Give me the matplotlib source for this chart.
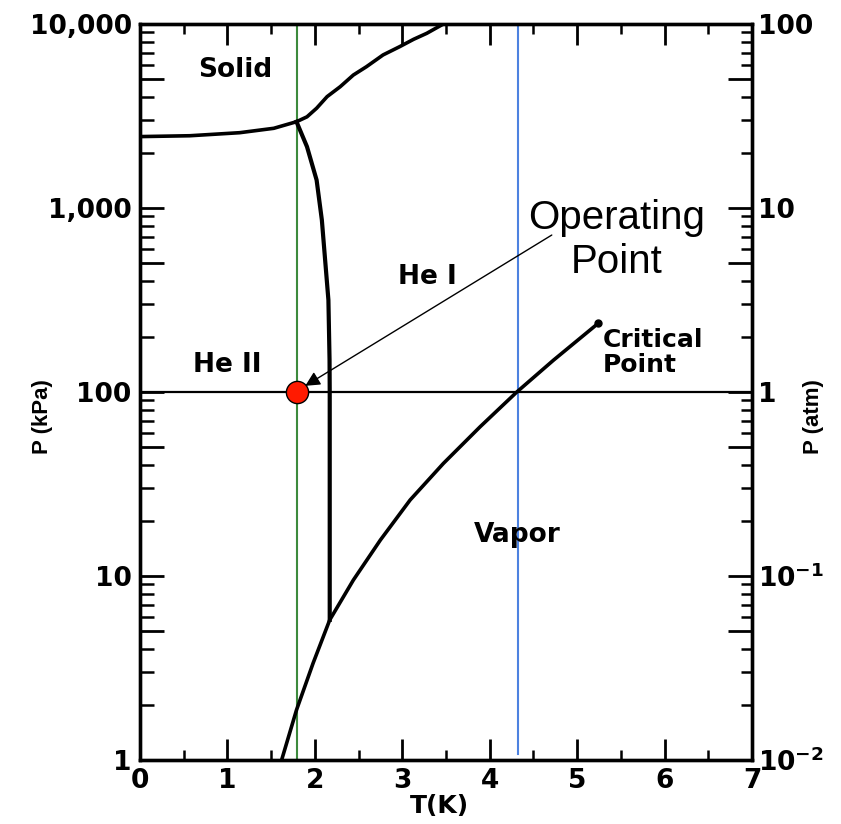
import matplotlib
matplotlib.use("Agg")
import matplotlib.pyplot as plt
from matplotlib.ticker import FixedLocator, FixedFormatter, NullFormatter

plt.rcParams['font.family'] = ['DejaVu Sans']
plt.rcParams['mathtext.fontset'] = 'custom'
plt.rcParams['mathtext.rm'] = 'DejaVu Sans:bold'
plt.rcParams['mathtext.it'] = 'DejaVu Sans:bold'
plt.rcParams['mathtext.default'] = 'rm'

# ---- data (T in K, P in kPa) ----
melt_T = [0.0, 0.57, 1.14, 1.53, 1.79, 1.91, 2.02, 2.14, 2.29, 2.44, 2.59, 2.78,
          2.97, 3.13, 3.28, 3.47]
melt_P = [2444, 2470, 2566, 2711, 2944, 3130, 3485, 4030, 4563, 5280, 5860, 6790,
          7530, 8260, 8900, 10000]

lambda_T = [1.79, 1.91, 2.02, 2.08, 2.155, 2.168, 2.17, 2.17]
lambda_P = [2944, 2153, 1419, 861, 316, 150, 100, 5.77]

vapor_T = [1.62, 1.79, 1.98, 2.17, 2.44, 2.75, 3.09, 3.47, 3.89, 4.31, 4.73, 5.24]
vapor_P = [1.0, 1.87, 3.36, 5.77, 9.5, 15.7, 25.9, 40.9, 64.7, 100, 149, 236]

critical_T, critical_P = 5.24, 236
operating_T, operating_P = 1.8, 100
green_T = 1.8
blue_T = 4.32
atm_line_P = 100

x_ticks = [0, 1, 2, 3, 4, 5, 6, 7]
left_major = [1, 5, 10, 50, 100, 500, 1000, 5000, 10000]
left_labels = ['1', '', '10', '', '100', '', '1,000', '', '10,000']
right_major = [0.01, 0.05, 0.1, 0.5, 1, 5, 10, 50, 100]
right_labels = [r'$10^{-2}$', '', r'$10^{-1}$', '', '1', '', '10', '', '100']

fig = plt.figure(figsize=(8.41, 8.24), dpi=100)
ax = fig.add_axes([140/841, 64/824, 612/841, 736/824])
ax.set_xlim(0, 7)
ax.set_yscale('log')
ax.set_ylim(1, 10000)

lw = 2.6
ax.plot(melt_T, melt_P, color='black', lw=lw, solid_joinstyle='round', zorder=3)
ax.plot(lambda_T, lambda_P, color='black', lw=lw + 0.4, solid_joinstyle='round', zorder=3)
ax.plot(vapor_T, vapor_P, color='black', lw=lw, solid_joinstyle='round', zorder=3)
ax.plot([critical_T], [critical_P], 'o', color='black', ms=5, zorder=4)

ax.plot([green_T, green_T], [1, 10000], color='#3d8a3d', lw=1.5, zorder=2)
ax.plot([blue_T, blue_T], [1.08, 10000], color='#4d82e0', lw=1.5, zorder=2)
ax.axhline(atm_line_P, color='black', lw=1.6, zorder=2)
ax.plot([operating_T], [operating_P], 'o', color='#ff1a00', mec='black', mew=1.0,
        ms=16, zorder=6)

tf = dict(fontsize=19, fontweight='bold', ha='center', va='center')
ax.text(1.09, 5620, 'Solid', **tf)
ax.text(3.29, 422, 'He I', **tf)
ax.text(1.0, 140, 'He II', **tf)
ax.text(4.32, 16.7, 'Vapor', **tf)
ax.text(5.29, 163, 'Critical\nPoint', fontsize=18, fontweight='bold', ha='left',
        va='center', linespacing=1.05)

ax.text(5.45, 670, 'Operating\nPoint', fontsize=29, family='Liberation Sans',
        ha='center', va='center', linespacing=1.2, zorder=7)
ax.annotate('', xy=(1.89, 108), xytext=(4.71, 713),
            arrowprops=dict(arrowstyle='-|>', color='black', lw=1.0,
                            mutation_scale=22, shrinkA=0, shrinkB=0), zorder=7)

# axes styling
for s in ax.spines.values():
    s.set_linewidth(2.4)
ax.xaxis.set_major_locator(FixedLocator(x_ticks))
ax.xaxis.set_minor_locator(FixedLocator([v + 0.5 for v in x_ticks[:-1]]))
ax.yaxis.set_major_locator(FixedLocator(left_major))
ax.yaxis.set_major_formatter(FixedFormatter(left_labels))
minor_left = [m * 10 ** e for e in range(0, 4) for m in (2, 3, 4, 6, 7, 8, 9)]
ax.yaxis.set_minor_locator(FixedLocator(minor_left))
ax.yaxis.set_minor_formatter(NullFormatter())
ax.tick_params(axis='x', which='major', direction='in', length=15, width=2.0,
               labelsize=19, pad=6, top=True)
ax.tick_params(axis='x', which='minor', direction='in', length=7.5, width=1.8, top=True)
ax.tick_params(axis='y', which='major', direction='in', length=17, width=2.0,
               labelsize=19, pad=6, right=False)
ax.tick_params(axis='y', which='minor', direction='in', length=10, width=1.8, right=False)
for lab in ax.get_xticklabels() + ax.get_yticklabels():
    lab.set_fontweight('bold')

ax2 = ax.twinx()
ax2.set_yscale('log')
ax2.set_ylim(0.01, 100)
ax2.yaxis.set_major_locator(FixedLocator(right_major))
ax2.yaxis.set_major_formatter(FixedFormatter(right_labels))
minor_right = [m * 10 ** e for e in range(-2, 2) for m in (2, 3, 4, 6, 7, 8, 9)]
ax2.yaxis.set_minor_locator(FixedLocator(minor_right))
ax2.yaxis.set_minor_formatter(NullFormatter())
ax2.tick_params(axis='y', which='major', direction='in', length=17, width=2.0,
                labelsize=19, pad=4)
ax2.tick_params(axis='y', which='minor', direction='in', length=8, width=1.8)
for lab in ax2.get_yticklabels():
    lab.set_fontweight('bold')
for s in ax2.spines.values():
    s.set_linewidth(2.4)

ax.set_xlabel('T(K)', fontsize=18, fontweight='bold', va='center')
ax.xaxis.set_label_coords(0.49, -0.063)
ax.set_ylabel('P (kPa)', fontsize=16, fontweight='bold', va='center',
              family='Liberation Sans')
ax.yaxis.set_label_coords(-0.16, 0.467)
ax2.set_ylabel('P (atm)', fontsize=16, fontweight='bold', va='center',
               family='Liberation Sans')
ax2.yaxis.set_label_coords(1.1, 0.467)

fig.savefig('out.png', dpi=100, facecolor='white')
